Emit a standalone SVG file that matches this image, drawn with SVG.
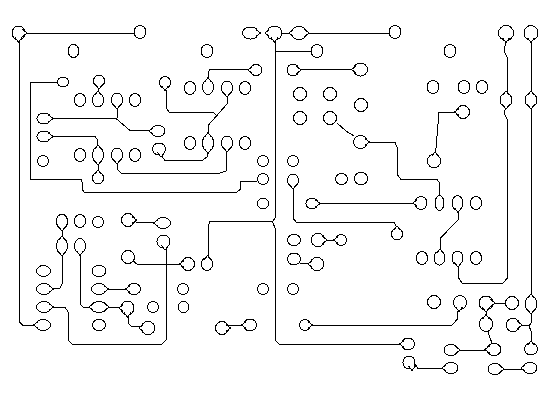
<svg xmlns="http://www.w3.org/2000/svg" width="550" height="400" viewBox="0 0 550 400">
<style>
ellipse{fill:#fff;stroke:#000;stroke-width:1}
path{fill:none;stroke:#000;stroke-width:1}
#tips path{fill:#fff}
svg{shape-rendering:crispEdges}
</style>
<defs>
<g id="tips">
<path id="td" d="M-3.500 -2.500L0 2L3.500 -2.500"/>
<path id="tu" d="M-3.500 2.500L0 -2L3.500 2.500"/>
<path id="tl" d="M2.500 -3.500L-2 0L2.500 3.500"/>
<path id="tr" d="M-2.500 -3.500L2 0L-2.500 3.500"/>
</g>
</defs>
<rect width="550" height="400" fill="#fff" stroke="none"/>
<g id="connectors">
<path d="M25 33H134"/>
<path d="M19.500 40V322L22.500 325H36"/>
<path d="M57 82H30.500V179.500H81L82.500 183V190L84 192H237L240.500 189V181.500H257"/>
<path d="M99 87L98 93"/>
<path d="M117 107V118M51 118.500H116L130 130.500H151"/>
<path d="M51 136.500H95L97.500 140V147M98 163V172"/>
<path d="M117 162L118 170L121 173H220L226 171V150"/>
<path d="M161 155L165 160.500H202L207 157V151"/>
<path d="M165 88.500L166.500 91V108L169 112H213L216 115"/>
<path d="M227 95V104L208.500 125V135"/>
<path d="M208.500 79V71.500L210 69.500H250"/>
<path d="M282 33H291M306 33H389"/>
<path d="M275 40V218L272.500 221.500L275 228V340L279 344H402M275 51H311"/>
<path d="M299 69.500H354"/>
<path d="M337 123L346 131L354 136"/>
<path d="M367 142.500H395L397.500 148V175L401 179.500H437L439.500 183V196"/>
<path d="M457 112.500H439L435.500 154"/>
<path d="M293 187V218L296 222H394L397 228"/>
<path d="M318 203H415"/>
<path d="M325 240H336"/>
<path d="M300 263H310"/>
<path d="M506 41L504 51L507.500 58V93"/>
<path d="M506 107L504 113L507.500 120V278L503 283H462L458 277V265"/>
<path d="M531 41V92M531 107V296"/>
<path d="M458 210V220L440.500 238V251"/>
<path d="M460 309L457.500 312V319L452 325H311"/>
<path d="M493 303H505"/>
<path d="M486 310V317"/>
<path d="M488 331L490 338L492 343"/>
<path d="M458 350H487"/>
<path d="M520 325H530"/>
<path d="M531 312V323L529 326L531.500 332V343"/>
<path d="M415 364L418 368.500H444"/>
<path d="M502 369H523"/>
<path d="M62 229V238"/>
<path d="M62.500 254V283L60 288L52 289"/>
<path d="M80 253V304L83 307H91"/>
<path d="M107 289H128"/>
<path d="M51 307H65L68 312V340L72 344H162L166 340V248L163 245"/>
<path d="M134 220L136 222H156"/>
<path d="M133 261L137 264H181"/>
<path d="M107 307H121"/>
<path d="M128 315V323L131 326H141"/>
<path d="M229 325H243"/>
<path d="M208 257V226L210 221.500H272"/>
</g>
<g id="p1"><ellipse cx="18.500" cy="33" rx="6.500" ry="7"/><use href="#tr" x="25" y="33"/><use href="#td" x="18.500" y="40"/></g>
<g id="p2"><ellipse cx="140" cy="32" rx="6" ry="6.500"/></g>
<g id="p3"><ellipse cx="73.500" cy="51" rx="5.500" ry="6.500"/></g>
<g id="p4"><ellipse cx="207" cy="51" rx="6" ry="6.500"/></g>
<g id="p5"><ellipse cx="63" cy="82" rx="5.500" ry="5"/></g>
<g id="p6"><ellipse cx="99" cy="81" rx="5.500" ry="6"/><use href="#td" x="99" y="87"/></g>
<g id="p7"><ellipse cx="80" cy="100" rx="5.500" ry="6.500"/></g>
<g id="p8"><ellipse cx="98" cy="100" rx="5.500" ry="7"/><use href="#tu" x="98" y="93"/></g>
<g id="p9"><ellipse cx="117" cy="100" rx="5.500" ry="7"/><use href="#td" x="117" y="107"/></g>
<g id="p10"><ellipse cx="135" cy="100" rx="5.500" ry="6.500"/></g>
<g id="p11"><ellipse cx="165" cy="82.500" rx="5.500" ry="6"/><use href="#td" x="165" y="88.500"/></g>
<g id="p12"><ellipse cx="190" cy="88" rx="5.500" ry="6.500"/></g>
<g id="p13"><ellipse cx="208" cy="87" rx="5.500" ry="7.500"/><use href="#tu" x="208" y="79.500"/></g>
<g id="p14"><ellipse cx="227" cy="88" rx="5.500" ry="7"/><use href="#td" x="227" y="95"/></g>
<g id="p15"><ellipse cx="245" cy="88" rx="5.500" ry="6.500"/></g>
<g id="p16"><ellipse cx="256" cy="70" rx="6" ry="5.500"/><use href="#tl" x="250" y="70"/></g>
<g id="p17"><ellipse cx="44" cy="118.500" rx="7" ry="5.500"/><use href="#tr" x="51" y="118.500"/></g>
<g id="p18"><ellipse cx="44" cy="136.500" rx="7" ry="5.500"/><use href="#tr" x="51" y="136.500"/></g>
<g id="p19"><ellipse cx="158" cy="131" rx="7" ry="5.500"/><use href="#tl" x="151" y="131"/></g>
<g id="p20"><ellipse cx="190" cy="143" rx="5.500" ry="6.500"/></g>
<g id="p21"><ellipse cx="208" cy="143" rx="5.500" ry="8.500"/><use href="#tu" x="208" y="134.500"/><use href="#td" x="208" y="151.500"/></g>
<g id="p22"><ellipse cx="227" cy="143" rx="5.500" ry="7"/><use href="#td" x="227" y="150"/></g>
<g id="p23"><ellipse cx="245" cy="143" rx="5.500" ry="6.500"/></g>
<g id="p24"><ellipse cx="159" cy="149" rx="6.500" ry="6"/><use href="#td" x="161" y="155"/></g>
<g id="p25"><ellipse cx="80" cy="155" rx="5.500" ry="6.500"/></g>
<g id="p26"><ellipse cx="98" cy="155" rx="5.500" ry="8"/><use href="#tu" x="98" y="147"/><use href="#td" x="98" y="163"/></g>
<g id="p27"><ellipse cx="117" cy="155" rx="5.500" ry="7"/><use href="#td" x="117" y="162"/></g>
<g id="p28"><ellipse cx="135" cy="155" rx="5.500" ry="6.500"/></g>
<g id="p29"><ellipse cx="43" cy="161" rx="5.500" ry="5.500"/></g>
<g id="p30"><ellipse cx="98" cy="178" rx="5.500" ry="6"/><use href="#tu" x="98" y="172"/></g>
<g id="p31"><ellipse cx="263" cy="161" rx="5.500" ry="5.500"/></g>
<g id="p32"><ellipse cx="263" cy="179" rx="5.500" ry="5.500"/></g>
<g id="p33"><ellipse cx="263" cy="203.500" rx="5.500" ry="5.500"/></g>
<g id="p34"><ellipse cx="250.500" cy="33" rx="8" ry="6"/><use href="#tr" x="258.500" y="33"/></g>
<g id="p35"><ellipse cx="274.500" cy="33" rx="7.500" ry="7"/><use href="#tl" x="267" y="33"/><use href="#td" x="274.500" y="40"/></g>
<g id="p36"><ellipse cx="299" cy="33" rx="8" ry="6.500"/><use href="#tl" x="291" y="33"/><use href="#tr" x="307" y="33"/></g>
<g id="p37"><ellipse cx="395" cy="32" rx="6" ry="6.500"/></g>
<g id="p38"><ellipse cx="317" cy="51" rx="6" ry="6.500"/></g>
<g id="p39"><ellipse cx="293" cy="70" rx="6" ry="6"/><use href="#tr" x="299" y="70"/></g>
<g id="p40"><ellipse cx="360.500" cy="69.500" rx="7" ry="6.500"/><use href="#tl" x="353.500" y="69.500"/></g>
<g id="p41"><ellipse cx="450" cy="51" rx="6" ry="6.500"/></g>
<g id="p42"><ellipse cx="506" cy="33" rx="7.500" ry="7.500"/><use href="#td" x="506" y="40.500"/></g>
<g id="p43"><ellipse cx="531" cy="33" rx="7" ry="7.500"/><use href="#td" x="531" y="40.500"/></g>
<g id="p44"><ellipse cx="300" cy="94" rx="6.500" ry="6.500"/></g>
<g id="p45"><ellipse cx="330" cy="94" rx="6.500" ry="6.500"/></g>
<g id="p46"><ellipse cx="361" cy="105" rx="6.500" ry="6.500"/></g>
<g id="p47"><ellipse cx="300" cy="118" rx="6.500" ry="6.500"/></g>
<g id="p48"><ellipse cx="330" cy="118" rx="6.500" ry="6.500"/></g>
<g id="p49"><ellipse cx="360.500" cy="142" rx="7" ry="6.500"/><use href="#tr" x="367.500" y="142"/></g>
<g id="p50"><ellipse cx="433" cy="87" rx="6" ry="6.500"/></g>
<g id="p51"><ellipse cx="464" cy="87" rx="6" ry="6.500"/></g>
<g id="p52"><ellipse cx="482" cy="87" rx="5.500" ry="6.500"/></g>
<g id="p53"><ellipse cx="463" cy="112" rx="6.500" ry="6.500"/><use href="#tl" x="456.500" y="112"/></g>
<g id="p54"><ellipse cx="506" cy="100" rx="6" ry="7"/><use href="#tu" x="506" y="93"/><use href="#td" x="506" y="107"/></g>
<g id="p55"><ellipse cx="531" cy="100" rx="6" ry="7"/><use href="#tu" x="531" y="93"/><use href="#td" x="531" y="107"/></g>
<g id="p56"><ellipse cx="434" cy="161" rx="6.500" ry="7"/><use href="#tu" x="435" y="154"/></g>
<g id="p57"><ellipse cx="293" cy="161" rx="5.500" ry="5.500"/></g>
<g id="p58"><ellipse cx="293" cy="180.500" rx="5.500" ry="6.500"/><use href="#td" x="293" y="187"/></g>
<g id="p59"><ellipse cx="341.500" cy="179" rx="6" ry="5.500"/></g>
<g id="p60"><ellipse cx="361" cy="178.500" rx="6.500" ry="6.500"/></g>
<g id="p61"><ellipse cx="62" cy="221.500" rx="5.500" ry="7.500"/><use href="#td" x="62" y="229"/></g>
<g id="p62"><ellipse cx="80" cy="221" rx="5.500" ry="6.500"/></g>
<g id="p63"><ellipse cx="98" cy="222" rx="5.500" ry="5.500"/></g>
<g id="p64"><ellipse cx="128" cy="220" rx="6.500" ry="6.500"/><use href="#tr" x="134.500" y="220"/></g>
<g id="p65"><ellipse cx="163" cy="223" rx="7.500" ry="5.500"/><use href="#tl" x="155.500" y="223"/></g>
<g id="p66"><ellipse cx="163.500" cy="241.500" rx="6.500" ry="6.500"/><use href="#td" x="165" y="248"/></g>
<g id="p67"><ellipse cx="62" cy="246" rx="5.500" ry="8"/><use href="#tu" x="62" y="238"/><use href="#td" x="62" y="254"/></g>
<g id="p68"><ellipse cx="80" cy="246" rx="5.500" ry="7.500"/><use href="#td" x="80" y="253.500"/></g>
<g id="p69"><ellipse cx="128" cy="257" rx="6.500" ry="6.500"/></g>
<g id="p70"><ellipse cx="188" cy="264" rx="6.500" ry="6.500"/><use href="#tl" x="181.500" y="264"/></g>
<g id="p71"><ellipse cx="207" cy="264" rx="5.500" ry="6.500"/><use href="#tu" x="207.500" y="257.500"/></g>
<g id="p72"><ellipse cx="43.500" cy="271" rx="7" ry="5.500"/></g>
<g id="p73"><ellipse cx="99" cy="271" rx="7" ry="5.500"/></g>
<g id="p74"><ellipse cx="44" cy="289" rx="7.500" ry="5.500"/><use href="#tr" x="51.500" y="289"/></g>
<g id="p75"><ellipse cx="99" cy="289" rx="7.500" ry="5.500"/><use href="#tr" x="106.500" y="289"/></g>
<g id="p76"><ellipse cx="134" cy="289" rx="6.500" ry="5.500"/><use href="#tl" x="127.500" y="289"/></g>
<g id="p77"><ellipse cx="183" cy="289" rx="5.500" ry="5.500"/></g>
<g id="p78"><ellipse cx="263" cy="289" rx="5.500" ry="5.500"/></g>
<g id="p79"><ellipse cx="44" cy="307" rx="7.500" ry="5.500"/><use href="#tr" x="51.500" y="307"/></g>
<g id="p80"><ellipse cx="99" cy="307" rx="8" ry="5.500"/><use href="#tl" x="91" y="307"/><use href="#tr" x="107" y="307"/></g>
<g id="p81"><ellipse cx="127.500" cy="308" rx="6.500" ry="7"/><use href="#tl" x="121" y="308"/><use href="#td" x="127.500" y="315"/></g>
<g id="p82"><ellipse cx="153" cy="307" rx="5.500" ry="5.500"/></g>
<g id="p83"><ellipse cx="183.500" cy="307" rx="5.500" ry="5.500"/></g>
<g id="p84"><ellipse cx="43" cy="325" rx="7.500" ry="5.500"/><use href="#tl" x="35.500" y="325"/></g>
<g id="p85"><ellipse cx="99" cy="325" rx="6.500" ry="5.500"/></g>
<g id="p86"><ellipse cx="148" cy="328" rx="7" ry="6.500"/><use href="#tl" x="141" y="328"/></g>
<g id="p87"><ellipse cx="222" cy="328" rx="6.500" ry="6.500"/><use href="#tr" x="228.500" y="328"/></g>
<g id="p88"><ellipse cx="250" cy="325" rx="6.500" ry="6"/><use href="#tl" x="243.500" y="325"/></g>
<g id="p89"><ellipse cx="312" cy="203.500" rx="6" ry="5.500"/><use href="#tr" x="318" y="203.500"/></g>
<g id="p90"><ellipse cx="421" cy="203" rx="6" ry="6.500"/><use href="#tl" x="415" y="203"/></g>
<g id="p91"><ellipse cx="439.500" cy="203" rx="4.500" ry="7.500"/></g>
<g id="p92"><ellipse cx="457.500" cy="203" rx="5.500" ry="7.500"/><use href="#td" x="458" y="210.500"/></g>
<g id="p93"><ellipse cx="476" cy="203" rx="5.500" ry="6.500"/></g>
<g id="p94"><ellipse cx="397" cy="234" rx="5.500" ry="6"/><use href="#tu" x="397" y="228"/></g>
<g id="p95"><ellipse cx="294" cy="240" rx="6.500" ry="5.500"/></g>
<g id="p96"><ellipse cx="318" cy="240" rx="7" ry="6.500"/><use href="#tr" x="325" y="240"/></g>
<g id="p97"><ellipse cx="341" cy="240" rx="5.500" ry="5.500"/><use href="#tl" x="335.500" y="240"/></g>
<g id="p98"><ellipse cx="294" cy="259" rx="6.500" ry="6"/></g>
<g id="p99"><ellipse cx="317" cy="264" rx="7" ry="6.500"/><use href="#tl" x="310" y="264"/></g>
<g id="p100"><ellipse cx="422" cy="258" rx="5.500" ry="6.500"/></g>
<g id="p101"><ellipse cx="439.500" cy="258" rx="5.500" ry="7"/><use href="#tu" x="440" y="251"/></g>
<g id="p102"><ellipse cx="457.500" cy="258" rx="5.500" ry="7"/><use href="#td" x="458" y="265"/></g>
<g id="p103"><ellipse cx="476" cy="258" rx="5.500" ry="6.500"/></g>
<g id="p104"><ellipse cx="293" cy="289" rx="5.500" ry="5.500"/></g>
<g id="p105"><ellipse cx="434" cy="302" rx="6.500" ry="6.500"/></g>
<g id="p106"><ellipse cx="460" cy="302.500" rx="6.500" ry="7"/><use href="#td" x="459" y="309.500"/></g>
<g id="p107"><ellipse cx="486" cy="303" rx="7" ry="7"/><use href="#tr" x="493" y="303"/><use href="#td" x="486" y="310"/></g>
<g id="p108"><ellipse cx="512" cy="303" rx="6.500" ry="6.500"/></g>
<g id="p109"><ellipse cx="531" cy="304" rx="6" ry="8"/><use href="#tu" x="531" y="296"/><use href="#td" x="531" y="312"/></g>
<g id="p110"><ellipse cx="305" cy="325" rx="5.500" ry="5.500"/><use href="#tr" x="310.500" y="325"/></g>
<g id="p111"><ellipse cx="486" cy="324" rx="6.500" ry="7.500"/><use href="#tu" x="486" y="316.500"/></g>
<g id="p112"><ellipse cx="513" cy="325" rx="7" ry="6.500"/><use href="#tr" x="520" y="325"/></g>
<g id="p113"><ellipse cx="408" cy="344" rx="6.500" ry="6"/><use href="#tl" x="401.500" y="344"/></g>
<g id="p114"><ellipse cx="451" cy="350" rx="7" ry="5.500"/><use href="#tr" x="458" y="350"/></g>
<g id="p115"><ellipse cx="494" cy="349.500" rx="7" ry="6"/><use href="#tl" x="487" y="349.500"/></g>
<g id="p116"><ellipse cx="531" cy="349" rx="6.500" ry="6"/><use href="#tu" x="531" y="343"/></g>
<g id="p117"><ellipse cx="409" cy="362.500" rx="6" ry="6.500"/><use href="#td" x="412" y="368.500"/></g>
<g id="p118"><ellipse cx="451" cy="368" rx="7" ry="5.500"/><use href="#tl" x="444" y="368"/></g>
<g id="p119"><ellipse cx="495" cy="369" rx="7" ry="5.500"/><use href="#tr" x="502" y="369"/></g>
<g id="p120"><ellipse cx="530" cy="368" rx="7" ry="5.500"/><use href="#tl" x="523" y="368"/></g>
</svg>
